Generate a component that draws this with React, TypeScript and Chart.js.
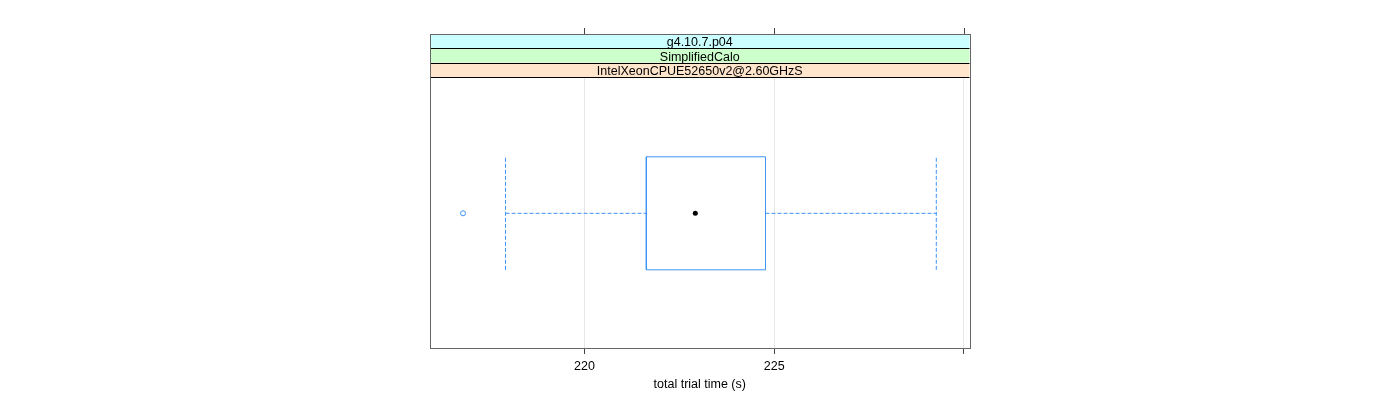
import React, { useEffect, useRef } from 'react';
import { Chart, registerables } from 'chart.js';

Chart.register(...registerables);

// ---- data ----
const stripLabels = ['g4.10.7.p04', 'SimplifiedCalo', 'IntelXeonCPUE52650v2@2.60GHzS'];
const stripColors = ['#ccffff', '#ccffcc', '#ffe5cc'];
const xTickValues = [220, 225, 230];
const xTickLabels = ['220', '225', ''];
const xTitle = 'total trial time (s)';
// lower whisker, Q1, median, Q3, upper whisker
const boxStats = [217.92, 221.63, 222.92, 224.77, 229.27];
const outliers = [216.8];
const xLimits = [215.93, 230.145];

const BLUE = '#3d93f5';
const FONT = '"Liberation Sans", Arial, Helvetica, sans-serif';
const FS = 12.5;

export default function App() {
  const ref = useRef<HTMLCanvasElement | null>(null);

  useEffect(() => {
    if (!ref.current) return;
    const yc = 1;
    const h = 0.417;
    const [wLo, q1, med, q3, wHi] = boxStats;

    const stripPlugin = {
      id: 'latticeStrips',
      afterDraw(chart: any) {
        const { ctx, chartArea } = chart;
        const { left, right, top, bottom } = chartArea;
        const stripH = 14.33;
        const n = stripLabels.length;
        const stripTop = top - stripH * n;
        ctx.save();
        for (let i = 0; i < n; i++) {
          const y0 = stripTop + i * stripH;
          ctx.fillStyle = stripColors[i];
          ctx.fillRect(left, y0, right - left, stripH);
        }
        ctx.strokeStyle = '#000';
        ctx.lineWidth = 1;
        for (let i = 1; i <= n; i++) {
          const y = Math.round(stripTop + i * stripH) + 0.5;
          ctx.beginPath();
          ctx.moveTo(left, y);
          ctx.lineTo(right, y);
          ctx.stroke();
        }
        ctx.fillStyle = '#000';
        ctx.font = `${FS}px ${FONT}`;
        ctx.textAlign = 'center';
        ctx.textBaseline = 'middle';
        for (let i = 0; i < n; i++) {
          const y0 = stripTop + i * stripH;
          ctx.fillText(stripLabels[i], (left + right) / 2, y0 + stripH / 2 + 1.8);
        }
        // panel outline
        ctx.strokeStyle = '#666';
        ctx.lineWidth = 1;
        ctx.strokeRect(Math.round(left) + 0.5, Math.round(stripTop) + 0.5, Math.round(right - left), Math.round(bottom - stripTop));
        // top ticks
        const xs = chart.scales.x;
        ctx.strokeStyle = '#444';
        for (const v of xTickValues) {
          const px = Math.round(xs.getPixelForValue(v)) + 0.5;
          ctx.beginPath();
          ctx.moveTo(px, stripTop);
          ctx.lineTo(px, stripTop - 6);
          ctx.stroke();
        }
        ctx.restore();
      },
    };

    const chart = new Chart(ref.current, {
      type: 'scatter',
      data: {
        datasets: [
          {
            data: [
              { x: q1, y: yc - h }, { x: q3, y: yc - h }, { x: q3, y: yc + h },
              { x: q1, y: yc + h }, { x: q1, y: yc - h },
            ],
            showLine: true, borderColor: BLUE, borderWidth: 1, pointRadius: 0, fill: false,
          },
          {
            data: [{ x: wLo, y: yc }, { x: q1, y: yc }],
            showLine: true, borderColor: BLUE, borderWidth: 1, borderDash: [4, 2], pointRadius: 0,
          },
          {
            data: [{ x: q3, y: yc }, { x: wHi, y: yc }],
            showLine: true, borderColor: BLUE, borderWidth: 1, borderDash: [4, 2], pointRadius: 0,
          },
          {
            data: [{ x: wLo, y: yc - h }, { x: wLo, y: yc + h }],
            showLine: true, borderColor: BLUE, borderWidth: 1, borderDash: [4, 2], pointRadius: 0,
          },
          {
            data: [{ x: wHi, y: yc - h }, { x: wHi, y: yc + h }],
            showLine: true, borderColor: BLUE, borderWidth: 1, borderDash: [4, 2], pointRadius: 0,
          },
          {
            data: [{ x: med, y: yc }],
            pointRadius: 2.5, pointBackgroundColor: '#000', pointBorderColor: '#000', pointBorderWidth: 0,
          },
          {
            data: outliers.map((v) => ({ x: v, y: yc })),
            pointRadius: 2.5, pointBackgroundColor: 'rgba(0,0,0,0)', pointBorderColor: BLUE, pointBorderWidth: 1,
          },
        ],
      },
      options: {
        responsive: false,
        animation: false,
        events: [],
        layout: { padding: { left: 430, right: 430.5, top: 77, bottom: 0 } },
        plugins: { legend: { display: false }, tooltip: { enabled: false }, title: { display: false } },
        scales: {
          x: {
            type: 'linear',
            position: 'bottom',
            min: xLimits[0],
            max: xLimits[1],
            afterBuildTicks: (scale: any) => {
              scale.ticks = xTickValues.map((v) => ({ value: v }));
            },
            afterFit: (scale: any) => {
              scale.height = 52;
            },
            grid: { color: '#e6e6e6', tickColor: '#444', tickLength: 6, drawTicks: true, lineWidth: 1 },
            border: { display: false },
            ticks: {
              padding: 5,
              color: '#000',
              font: { size: FS, family: FONT },
              maxRotation: 0,
              autoSkip: false,
              callback: (v: any) => {
                const i = xTickValues.indexOf(Number(v));
                return i >= 0 ? xTickLabels[i] : '';
              },
            },
            title: {
              display: true,
              text: xTitle,
              color: '#000',
              font: { size: FS, family: FONT },
              padding: { top: 0, bottom: 8 },
            },
          },
          y: { type: 'linear', min: 0.006, max: 2.006, display: false },
        },
      },
      plugins: [stripPlugin],
    } as any);
    return () => chart.destroy();
  }, []);

  return (
    <div style={{ position: 'absolute', left: 0, top: 0, width: 1400, height: 400, background: '#fff' }}>
      <canvas ref={ref} width={1400} height={400} style={{ display: 'block', width: 1400, height: 400 }} />
    </div>
  );
}
